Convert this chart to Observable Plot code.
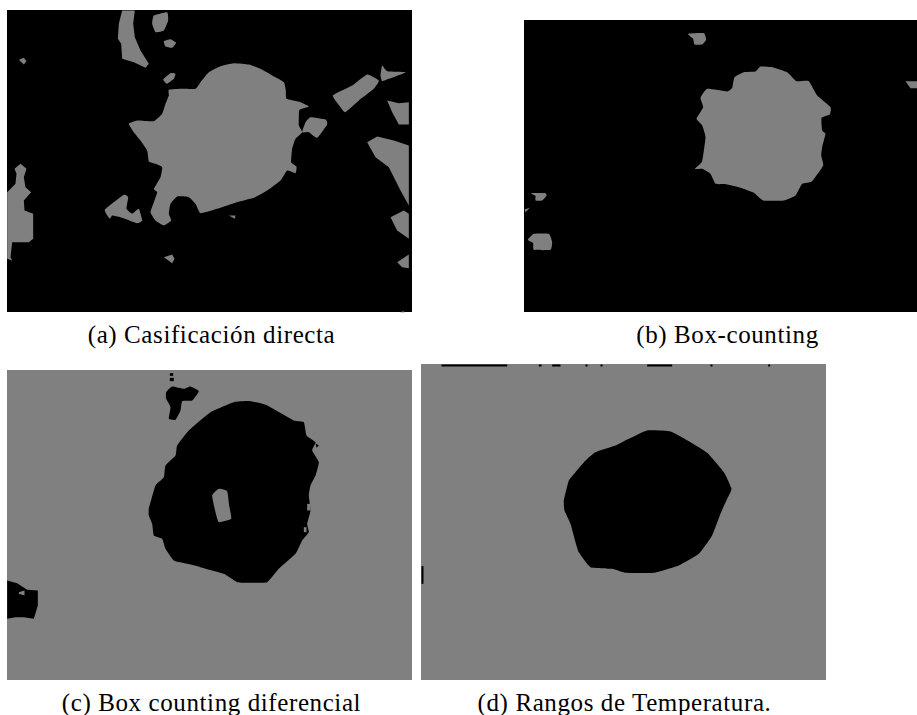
<!DOCTYPE html>
<html><head><meta charset="utf-8">
<style>html,body{margin:0;padding:0;background:#fff}svg{display:block}</style>
<script src="https://cdn.jsdelivr.net/npm/d3@7"></script>
<script src="https://cdn.jsdelivr.net/npm/@observablehq/plot@0.6"></script>
</head><body><div id="chart"></div>
<script>
// Outline points at 3x, relative to each crop origin.
const GRAY="#808080", BLACK="#000000";
const panelNames=["a","b","c","d"];
const panelX1=[7,524,7,421], panelX2=[412,917,412,826], panelY1=[10,20,370,364], panelY2=[312,312,680,680];
const panelBack=[BLACK,BLACK,GRAY,GRAY];
const originX=[0,510,0,415], originY=[0,10,360,355];
const captions=["(a) Casificación directa","(b) Box-counting","(c) Box counting diferencial","(d) Rangos de Temperatura."];
const captionX=[211,727,211,624], captionY=[334,334,702,702];

const shapesA=[
 [GRAY,[505,268,545,265,585,265,600,245,625,215,660,197,700,188,745,192,780,205,815,225,850,245,856,270,858,295,900,305,925,318,897,328,895,350,895,375,905,395,885,415,875,445,872,485,888,498,885,518,860,510,840,540,800,570,760,592,700,608,650,625,600,638,585,610,565,590,530,588,510,610,505,640,512,660,490,675,465,660,450,635,460,605,470,575,460,565,480,530,485,500,465,490,445,483,440,450,420,420,400,395,385,370,410,360,460,362,485,340,495,310,505,285]],
 [GRAY,[915,365,930,350,975,357,980,372,950,412,925,395,905,395]],
 [GRAY,[365,30,403,30,398,70,403,110,420,150,445,190,435,202,400,185,365,175,362,130,352,115,355,70]],
 [GRAY,[460,45,500,35,503,60,490,90,465,95,455,70]],
 [GRAY,[490,122,510,116,527,127,515,142,495,138]],
 [GRAY,[488,237,510,218,525,220,520,235,500,250]],
 [GRAY,[55,178,70,172,78,182,70,192]],
 [GRAY,[997,285,1055,255,1100,222,1135,240,1120,265,1075,300,1035,335,1020,320]],
 [GRAY,[1145,195,1160,212,1215,215,1165,235,1145,242,1140,225]],
 [GRAY,[1160,300,1195,308,1225,305,1225,372,1195,372,1175,335]],
 [GRAY,[1100,425,1130,408,1180,420,1225,435,1225,530,1225,615,1200,570,1165,500,1125,470]],
 [GRAY,[1170,650,1210,630,1225,640,1225,680,1225,715,1190,690]],
 [GRAY,[1190,785,1225,762,1225,803,1205,800]],
 [GRAY,[20,575,45,550,48,520,42,505,60,490,78,505,70,530,75,560,92,575,70,600,72,630,98,640,98,680,98,715,85,725,35,725,30,770,35,780,20,775,20,680]],
 [GRAY,[313,628,370,583,383,590,378,625,395,640,415,625,425,660,410,668,360,650,335,645,328,655]],
 [GRAY,[490,770,515,762,522,775,515,788]],
 [GRAY,[685,645,705,645,703,655]],
 [GRAY,[1198,935,1210,932,1212,936]]
];
const shapesB=[
 [GRAY,[672,200,700,185,735,183,750,168,785,170,830,185,858,212,895,212,920,255,960,290,958,312,933,322,935,360,945,370,935,410,932,435,938,465,905,512,875,520,855,555,820,570,758,570,730,547,690,532,650,522,615,520,600,490,575,475,553,475,575,452,585,380,575,345,558,325,578,290,570,262,590,235,650,243,665,232]],
 [GRAY,[532,70,580,68,587,88,575,102,552,102,548,85]],
 [GRAY,[1185,212,1221,212,1221,233,1200,233]],
 [GRAY,[62,548,105,548,108,556,95,570,75,570,75,556]],
 [GRAY,[42,597,58,592,45,605]],
 [GRAY,[52,688,70,670,115,670,125,695,120,718,70,718,68,698]]
];
const shapesC=[
 [BLACK,[445,445,465,375,490,350,495,315,525,285,530,255,565,210,630,155,700,125,750,122,800,135,880,180,910,185,918,225,945,245,935,270,955,305,945,345,930,375,925,405,930,450,920,490,925,515,905,540,885,580,835,625,800,665,750,667,710,665,670,640,600,620,560,610,520,600,495,565,485,535,460,525,455,490,445,465]],
 [GRAY,[635,405,655,385,680,392,686,435,692,475,655,485,645,455]],
 [BLACK,[497,95,515,78,550,85,570,78,595,92,575,120,545,122,540,150,525,178,505,175,510,140,497,115]],
 [BLACK,[20,660,50,668,80,688,112,690,112,735,100,775,70,770,45,770,20,775]],
 [GRAY,[55,695,72,690,72,705,55,700]],
 [GRAY,[910,500,918,500,918,515,910,515]],
 [GRAY,[920,430,930,430,930,450,920,450]],
 [BLACK,[945,248,955,255,948,262]],
 [BLACK,[508,38,518,38,518,46,508,46]],
 [BLACK,[508,52,520,52,520,62,508,62]]
];
const shapesD=[
 [BLACK,[445,435,460,375,480,350,510,315,540,290,600,270,640,250,695,225,765,228,825,260,875,292,925,350,948,400,935,430,915,475,890,540,850,595,790,630,715,652,630,652,590,640,525,635,490,590,480,560,465,505,447,465]],
 [BLACK,[78,27,275,27,275,33,78,33]],
 [BLACK,[370,27,378,27,378,33,370,33]],
 [BLACK,[410,27,435,27,435,33,410,33]],
 [BLACK,[510,27,516,27,516,33,510,33]],
 [BLACK,[555,27,561,27,561,33,555,33]],
 [BLACK,[695,27,770,27,770,33,695,33]],
 [BLACK,[885,27,891,27,891,33,885,33]],
 [BLACK,[1058,27,1064,27,1064,33,1058,33]],
 [BLACK,[18,632,24,632,24,685,18,685]]
];
const allShapes=[shapesA,shapesB,shapesC,shapesD];

const rows=[];
allShapes.forEach((shapes,p)=>shapes.forEach(([tone,pts],s)=>{
  // shapes that meet a panel edge stay straight-sided so they do not spill over it
  const xs=pts.filter((_,i)=>i%2===0), ys=pts.filter((_,i)=>i%2===1);
  const edge=Math.min(...xs)<=20||Math.max(...xs)>=1221||Math.min(...ys)<=30;
  const smooth=pts.length>8&&!edge;
  for(let i=0;i<pts.length;i+=2) rows.push({id:panelNames[p]+s,tone,smooth,x:pts[i]/3+originX[p],y:pts[i+1]/3+originY[p]});
}));
const panels=panelNames.map((n,i)=>({x1:panelX1[i],x2:panelX2[i],y1:panelY1[i],y2:panelY2[i],fill:panelBack[i]}));
const caps=captions.map((t,i)=>({t,x:captionX[i],y:captionY[i]}));

document.getElementById("chart").append(Plot.plot({
  width:917,height:715,margin:0,
  style:{background:"#fff",letterSpacing:"0.6px"},
  x:{domain:[0,917],range:[0,917],axis:null},
  y:{domain:[0,715],range:[0,715],axis:null},
  color:{type:"identity"},
  marks:[
    Plot.rect(panels,{x1:"x1",x2:"x2",y1:"y1",y2:"y2",fill:"fill"}),
    Plot.line(rows.filter(d=>d.smooth),{x:"x",y:"y",z:"id",fill:"tone",stroke:null,curve:"cardinal-closed",tension:0.6}),
    Plot.line(rows.filter(d=>!d.smooth),{x:"x",y:"y",z:"id",fill:"tone",stroke:null,curve:"linear-closed"}),
    Plot.text(caps,{x:"x",y:"y",text:"t",fontSize:25,fontFamily:"'Liberation Serif',serif",fill:"#000",textAnchor:"middle"})
  ]
}));
</script></body></html>
